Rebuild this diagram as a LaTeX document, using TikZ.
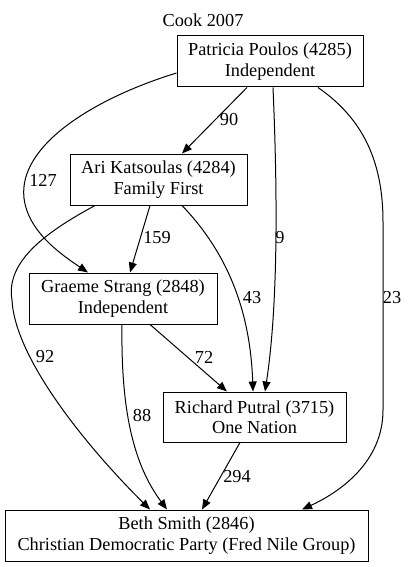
\documentclass[tikz,border=0pt]{standalone}
\usepackage{fontspec}
\setmainfont{Liberation Serif}
\usetikzlibrary{arrows.meta}
\tikzset{
  box/.style={draw, line width=1pt, rectangle, inner sep=0pt, align=center, font=\fontsize{18.3}{20.5}\selectfont},
  lbl/.style={inner sep=0pt, font=\fontsize{18.3}{20.5}\selectfont},
  edge/.style={line width=1pt, -{Triangle[length=10pt,width=8pt]}}
}
\begin{document}
\begin{tikzpicture}[x=1pt,y=-1pt]
\useasboundingbox (0,0) rectangle (408,567);
\node[lbl] (title) at (203,20) {Cook 2007};
\node[box, minimum width=186pt, minimum height=51pt] (pat) at (270,61.5) {Patricia Poulos (4285)\\Independent};
\node[box, minimum width=177pt, minimum height=51pt] (ari) at (158.5,179.5) {Ari Katsoulas (4284)\\Family First};
\node[box, minimum width=188pt, minimum height=51pt] (gra) at (123,298.5) {Graeme Strang (2848)\\Independent};
\node[box, minimum width=183pt, minimum height=50pt] (ric) at (254.5,417) {Richard Putral (3715)\\One Nation};
\node[box, minimum width=363pt, minimum height=51pt] (bet) at (186.5,535.5) {Beth Smith (2846)\\Christian Democratic Party (Fred Nile Group)};
% edges
\draw[edge] ([xshift=-23pt]pat.south) -- ([xshift=23.5pt]ari.north);
\draw[edge] ([yshift=-11.5pt]pat.west) .. controls (95,98) and (18,145) .. (24,198) .. controls (28,232) and (62,255) .. ([xshift=-35pt]gra.north);
\draw[edge] ([xshift=3pt]pat.south) .. controls (277,180) and (279,300) .. ([xshift=10.5pt]ric.north);
\draw[edge] ([xshift=48pt]pat.south) .. controls (362,118) and (383,160) .. (383,222) -- (383,410) .. controls (383,462) and (340,492) .. ([xshift=115.5pt]bet.north);
\draw[edge] ([xshift=-8.5pt]ari.south) -- ([xshift=7pt]gra.north);
\draw[edge] ([xshift=23.5pt]ari.south) .. controls (220,245) and (250,300) .. ([xshift=-1.5pt]ric.north);
\draw[edge] ([xshift=-63.5pt]ari.south) .. controls (50,230) and (5,260) .. (12,300) .. controls (15,360) and (90,450) .. ([xshift=-36.5pt]bet.north);
\draw[edge] ([xshift=27pt]gra.south) -- ([xshift=-27.5pt]ric.north);
\draw[edge] ([xshift=-1pt]gra.south) .. controls (121,400) and (130,460) .. ([xshift=-19.5pt]bet.north);
\draw[edge] ([xshift=-14.5pt]ric.south) -- ([xshift=15.5pt]bet.north);
% labels
\node[lbl] (l90) at (229,120) {90};
\node[lbl] (l127) at (43,180) {127};
\node[lbl] (l9) at (280,238) {9};
\node[lbl] (l23) at (392,298) {23};
\node[lbl] (l159) at (157,238) {159};
\node[lbl] (l43) at (252,298) {43};
\node[lbl] (l92) at (45,357) {92};
\node[lbl] (l72) at (204,357) {72};
\node[lbl] (l88) at (142,415) {88};
\node[lbl] (l294) at (237,477) {294};
\end{tikzpicture}
\end{document}
